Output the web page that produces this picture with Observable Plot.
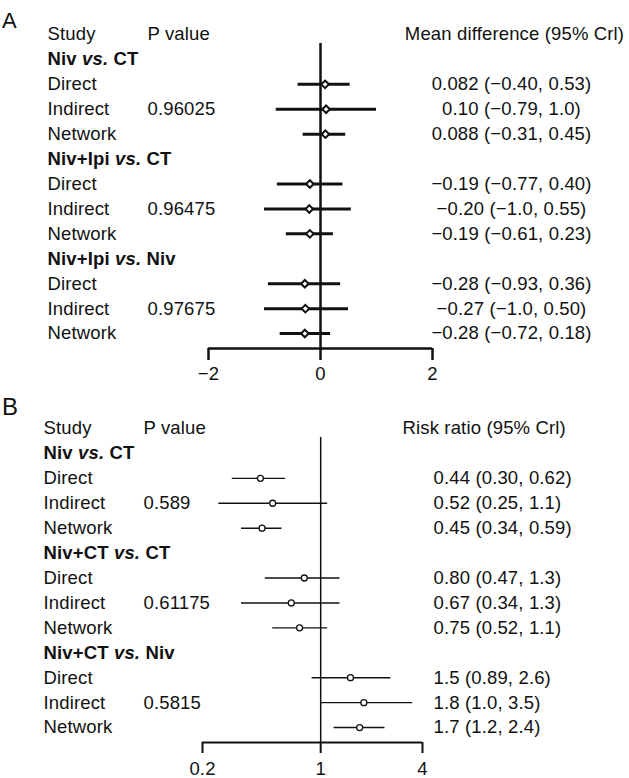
<!DOCTYPE html>
<html><head><meta charset="utf-8">
<script src="https://cdn.jsdelivr.net/npm/d3@7"></script>
<script src="https://cdn.jsdelivr.net/npm/@observablehq/plot@0.6"></script>
<style>
body{margin:0;background:#fff;}
#wrap{width:629px;font-family:"Liberation Sans",Arial,Helvetica,sans-serif;color:#111;}
.panel{position:relative;width:629px;}
.tag{position:absolute;left:2px;line-height:1;}
</style></head><body><div id="wrap"></div>
<script>
const studies = ["Direct", "Indirect", "Network"];

// Panel A — mean difference
const comparisonsA = ["Niv vs. CT", "Niv+Ipi vs. CT", "Niv+Ipi vs. Niv"];
const pValuesA = ["0.96025", "0.96475", "0.97675"];
const mdEstimate = [0.082, 0.10, 0.088, -0.19, -0.20, -0.19, -0.28, -0.27, -0.28];
const mdLower = [-0.40, -0.79, -0.31, -0.77, -1.0, -0.61, -0.93, -1.0, -0.72];
const mdUpper = [0.53, 1.0, 0.45, 0.40, 0.55, 0.23, 0.36, 0.50, 0.18];
const mdLabels = ["0.082 (−0.40, 0.53)", "0.10 (−0.79, 1.0)", "0.088 (−0.31, 0.45)",
  "−0.19 (−0.77, 0.40)", "−0.20 (−1.0, 0.55)", "−0.19 (−0.61, 0.23)",
  "−0.28 (−0.93, 0.36)", "−0.27 (−1.0, 0.50)", "−0.28 (−0.72, 0.18)"];
const ticksA = [-2, 0, 2];

// Panel B — risk ratio
const comparisonsB = ["Niv vs. CT", "Niv+CT vs. CT", "Niv+CT vs. Niv"];
const pValuesB = ["0.589", "0.61175", "0.5815"];
const rrEstimate = [0.44, 0.52, 0.45, 0.80, 0.67, 0.75, 1.5, 1.8, 1.7];
const rrLower = [0.30, 0.25, 0.34, 0.47, 0.34, 0.52, 0.89, 1.0, 1.2];
const rrUpper = [0.62, 1.1, 0.59, 1.3, 1.3, 1.1, 2.6, 3.5, 2.4];
const rrLabels = ["0.44 (0.30, 0.62)", "0.52 (0.25, 1.1)", "0.45 (0.34, 0.59)",
  "0.80 (0.47, 1.3)", "0.67 (0.34, 1.3)", "0.75 (0.52, 1.1)",
  "1.5 (0.89, 2.6)", "1.8 (1.0, 3.5)", "1.7 (1.2, 2.4)"];
const ticksB = [0.2, 1, 4];

const FONT = '"Liberation Sans", Arial, Helvetica, sans-serif';

function buildRows(comps, pvals, est, lo, hi, labels) {
  const groups = comps.map((c, i) => ({row: 1 + 4 * i, label: c}));
  const rows = comps.flatMap((c, i) => studies.map((s, j) => {
    const k = 3 * i + j;
    return {row: 2 + 4 * i + j, study: s, p: j === 1 ? pvals[i] : "", est: est[k], lo: lo[k], hi: hi[k], label: labels[k]};
  }));
  return {groups, rows};
}

function italicVs(svg) {
  d3.select(svg).selectAll("text").each(function () {
    const t = this.textContent;
    const m = /^(.*) vs\. (.*)$/.exec(t);
    if (!m || this.querySelector("tspan")) return;
    this.textContent = "";
    const s = d3.select(this);
    s.append("tspan").text(m[1] + " ");
    s.append("tspan").attr("font-style", "italic").text("vs.");
    s.append("tspan").text(" " + m[2]);
  });
}

function forest(cfg) {
  const {groups, rows} = buildRows(cfg.comps, cfg.pvals, cfg.est, cfg.lo, cfg.hi, cfg.labels);
  const header = [{row: 0}];
  const x0 = cfg.ticks[0], x1 = cfg.ticks[cfg.ticks.length - 1];
  const svg = Plot.plot({
    width: 629, height: cfg.height,
    marginLeft: cfg.ml, marginRight: cfg.mr, marginTop: cfg.mt, marginBottom: cfg.mb,
    style: {fontFamily: FONT, fontSize: "18.5px", color: "#111", background: "white", overflow: "visible", letterSpacing: "0.15px"},
    x: {type: cfg.type, domain: [x0, x1]},
    y: {domain: [0, 12.6], reverse: true, axis: null},
    marks: [
      Plot.ruleX([cfg.ref], {y1: 0.36, y2: 12.6, strokeWidth: cfg.refW, stroke: "#111"}),
      Plot.ruleY([12.6], {x1: x0, x2: x1, strokeWidth: cfg.axisW, stroke: "#111"}),
      Plot.axisX({ticks: cfg.ticks, tickSize: cfg.tickSize, tickPadding: cfg.tickPad, strokeWidth: cfg.axisW, stroke: "#111", tickFormat: cfg.fmt, label: null}),
      Plot.ruleY(rows, {y: "row", x1: "lo", x2: "hi", strokeWidth: cfg.barW, stroke: "#111"}),
      Plot.dot(rows, {x: "est", y: "row", symbol: cfg.symbol, r: cfg.r, fill: "white", stroke: "#111", strokeWidth: cfg.dotW}),
      Plot.text(header, {y: "row", text: () => "Study", frameAnchor: "left", dx: cfg.col1, textAnchor: "start"}),
      Plot.text(header, {y: "row", text: () => "P value", frameAnchor: "left", dx: cfg.col2, textAnchor: "start"}),
      Plot.text(header, {y: "row", text: () => cfg.title, frameAnchor: "right", dx: cfg.titleDx, textAnchor: cfg.titleAnchor}),
      Plot.text(groups, {y: "row", text: "label", frameAnchor: "left", dx: cfg.col1, textAnchor: "start", fontWeight: "bold"}),
      Plot.text(rows, {y: "row", text: "study", frameAnchor: "left", dx: cfg.col1, textAnchor: "start"}),
      Plot.text(rows, {y: "row", text: "p", frameAnchor: "left", dx: cfg.col2, textAnchor: "start"}),
      Plot.text(rows, {y: "row", text: "label", frameAnchor: "right", dx: cfg.valDx, textAnchor: cfg.valAnchor})
    ]
  });
  italicVs(svg);
  const panel = document.createElement("div");
  panel.className = "panel";
  const tag = document.createElement("div");
  tag.className = "tag";
  tag.style.top = cfg.tagTop + "px";
  tag.style.fontSize = cfg.tagSize + "px";
  tag.textContent = cfg.tag;
  panel.appendChild(svg);
  panel.appendChild(tag);
  document.getElementById("wrap").appendChild(panel);
}

const minusFmt = d => (d < 0 ? "−" + Math.abs(d) : String(d));

forest({
  tag: "A", tagTop: 10, tagSize: 22, height: 390,
  comps: comparisonsA, pvals: pValuesA, est: mdEstimate, lo: mdLower, hi: mdUpper, labels: mdLabels,
  ticks: ticksA, type: "linear", ref: 0, fmt: minusFmt,
  ml: 208, mr: 197, mt: 34, mb: 42,
  refW: 2.5, axisW: 2.5, tickSize: 12, tickPad: 6, barW: 3, symbol: "diamond2", r: 3.4, dotW: 2,
  col1: -161, col2: -61, title: "Mean difference (95% Crl)", titleDx: 82, titleAnchor: "middle", valDx: 79, valAnchor: "middle"
});

forest({
  tag: "B", tagTop: 5, tagSize: 24, height: 388,
  comps: comparisonsB, pvals: pValuesB, est: rrEstimate, lo: rrLower, hi: rrUpper, labels: rrLabels,
  ticks: ticksB, type: "log", ref: 1, fmt: d => String(d),
  ml: 202, mr: 207, mt: 38, mb: 36,
  refW: 1.5, axisW: 2, tickSize: 11, tickPad: 8, barW: 1.4, symbol: "circle", r: 3, dotW: 1.3,
  col1: -159, col2: -59, title: "Risk ratio (95% Crl)", titleDx: -20, titleAnchor: "start", valDx: 11, valAnchor: "start"
});
</script></body></html>
